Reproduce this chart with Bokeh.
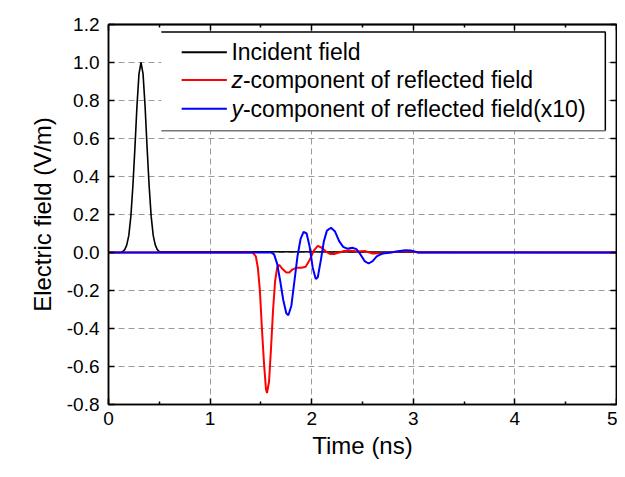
from bokeh.plotting import figure
from bokeh.models import (Range1d, LinearAxis, SingleIntervalTicker, FixedTicker,
                          PrintfTickFormatter, BoxAnnotation, Label)
from bokeh.embed import file_html
from bokeh.resources import INLINE

# ---------------- data ----------------
t_inc = [0, 0.12, 0.14, 0.16, 0.18, 0.20, 0.22, 0.24, 0.26, 0.28, 0.30, 0.32,
         0.34, 0.36, 0.38, 0.40, 0.42, 0.44, 0.46, 0.48, 0.50, 5.0]
e_inc = [0, 0, 0.005, 0.015, 0.04, 0.09, 0.19, 0.35, 0.55, 0.77, 0.94, 1.0,
         0.94, 0.77, 0.55, 0.35, 0.19, 0.09, 0.04, 0.015, 0.005, 0]

t_z = [0, 1.42, 1.45, 1.47, 1.49, 1.51, 1.53, 1.55, 1.56, 1.58, 1.60, 1.62,
       1.64, 1.66, 1.68, 1.71, 1.75, 1.78, 1.81, 1.85, 1.90, 1.94, 1.98, 2.02,
       2.06, 2.10, 2.14, 2.18, 2.22, 2.27, 2.32, 2.37, 2.45, 2.52, 2.60, 2.70,
       2.80, 2.90, 2.97, 3.05, 5.0]
e_z = [0, 0, -0.02, -0.08, -0.20, -0.40, -0.58, -0.72, -0.74, -0.68, -0.50, -0.30,
       -0.15, -0.08, -0.065, -0.085, -0.105, -0.105, -0.09, -0.08, -0.08, -0.075, -0.04, 0.01,
       0.035, 0.025, 0.005, -0.008, -0.008, 0.0, 0.008, 0.01, 0.005, 0.008, -0.005, -0.004,
       0.002, 0.008, 0.006, 0.0, 0]

t_y = [0, 1.60, 1.63, 1.66, 1.69, 1.72, 1.75, 1.77, 1.80, 1.83, 1.86, 1.89,
       1.92, 1.95, 1.98, 2.01, 2.04, 2.06, 2.09, 2.12, 2.15, 2.19, 2.23, 2.27,
       2.31, 2.35, 2.40, 2.44, 2.48, 2.52, 2.56, 2.60, 2.64, 2.70, 2.78, 2.85,
       2.92, 2.98, 3.05, 5.0]
e_y = [0, 0, -0.01, -0.06, -0.15, -0.25, -0.32, -0.33, -0.28, -0.15, -0.02, 0.07,
       0.108, 0.10, 0.03, -0.08, -0.14, -0.13, -0.04, 0.06, 0.115, 0.13, 0.11, 0.06,
       0.03, 0.02, 0.025, 0.018, -0.01, -0.045, -0.058, -0.045, -0.02, -0.005, 0.0, 0.006,
       0.012, 0.01, 0.0, 0]

x_ticks = [0, 1, 2, 3, 4, 5]
x_minor = [0.5, 1.5, 2.5, 3.5, 4.5]
y_ticks = [-0.8, -0.6, -0.4, -0.2, 0.0, 0.2, 0.4, 0.6, 0.8, 1.0, 1.2]

legend_rows = [
    ("", "Incident field", "black"),
    ("z", "-component of reflected field", "red"),
    ("y", "-component of reflected field(x10)", "blue"),
]

FONT = "Liberation Sans"

p = figure(width=617, height=461, output_backend="svg", toolbar_location=None,
           x_range=Range1d(0, 5), y_range=Range1d(-0.8, 1.2),
           min_border_left=108, min_border_right=1, min_border_top=24,
           min_border_bottom=57,
           x_axis_label="Time (ns)", y_axis_label="Electric field (V/m)")
p.background_fill_color = "white"
p.border_fill_color = "white"
p.outline_line_color = "black"
p.outline_line_width = 1.5

# axes
xa = p.xaxis[0]
xa.ticker = FixedTicker(ticks=x_ticks, minor_ticks=x_minor)
ya = p.yaxis[0]
ya.ticker = FixedTicker(ticks=y_ticks)
ya.formatter = PrintfTickFormatter(format="%.1f")
for ax in (xa, ya):
    ax.axis_line_width = 1.5
    ax.axis_line_color = "black"
    ax.major_tick_in = 6
    ax.major_tick_out = 0
    ax.minor_tick_in = 3
    ax.minor_tick_out = 0
    ax.major_tick_line_width = 1.5
    ax.minor_tick_line_width = 1.5
    ax.major_label_text_font = FONT
    ax.major_label_text_font_size = "19px"
    ax.major_label_text_color = "black"
    ax.axis_label_text_font = FONT
    ax.axis_label_text_font_size = "24px"
    ax.axis_label_text_font_style = "normal"
    ax.axis_label_text_color = "black"
xa.major_label_standoff = 7
xa.axis_label_standoff = 4
ya.major_label_standoff = 9
ya.axis_label_standoff = 8
ya.minor_tick_in = 0


def mirror_axis(minor_positions, tick_len):
    # an axis with no major ticks (so no labels); its "minor" ticks give the marks
    return LinearAxis(ticker=FixedTicker(ticks=[], minor_ticks=minor_positions),
                      major_label_standoff=0, axis_label_standoff=0,
                      major_tick_in=0, major_tick_out=0,
                      minor_tick_in=tick_len, minor_tick_out=0,
                      axis_line_width=1.5, minor_tick_line_width=1.5)


p.add_layout(mirror_axis(x_ticks, 6), "above")
p.add_layout(mirror_axis(x_minor, 3), "above")
p.add_layout(mirror_axis(y_ticks, 6), "right")

# grid
p.xgrid.ticker = FixedTicker(ticks=x_ticks)
p.ygrid.ticker = FixedTicker(ticks=y_ticks)
for g in (p.xgrid[0], p.ygrid[0]):
    g.grid_line_color = "#9a9a9a"
    g.grid_line_dash = "6 4"
    g.grid_line_width = 1

# curves
p.line(t_inc, e_inc, line_color="black", line_width=1.6)
p.line(t_z, e_z, line_color="red", line_width=2)
p.line(t_y, e_y, line_color="blue", line_width=2)

# legend (custom so that z / y can be italic)
LEG_LEFT, LEG_RIGHT, LEG_TOP, LEG_BOTTOM = 0.52, 4.89, 1.16, 0.641
ROW_Y = [1.054, 0.908, 0.756]
LINE_X0, LINE_X1, TEXT_X = 0.72, 1.165, 1.21
p.add_layout(BoxAnnotation(left=LEG_LEFT, right=LEG_RIGHT, top=LEG_TOP, bottom=LEG_BOTTOM,
                           fill_color="white", fill_alpha=1.0, line_color=None))
b1 = p.line([LEG_LEFT, LEG_RIGHT, LEG_RIGHT], [LEG_TOP, LEG_TOP, LEG_BOTTOM],
            line_color="black", line_width=1.5)
b2 = p.line([LEG_LEFT, LEG_RIGHT], [LEG_BOTTOM, LEG_BOTTOM], line_color="#777777", line_width=1.5)
b1.level = "overlay"
b2.level = "overlay"
for (ital, rest, col), ry in zip(legend_rows, ROW_Y):
    r = p.line([LINE_X0, LINE_X1], [ry, ry], line_color=col, line_width=2)
    r.level = "overlay"
    off = 0
    if ital:
        p.add_layout(Label(x=TEXT_X, y=ry, text=ital, text_font=FONT, text_font_size="23px",
                           text_font_style="italic", text_baseline="middle", text_color="black",
                           level="overlay"))
        off = 11.5
    p.add_layout(Label(x=TEXT_X, y=ry, x_offset=off, text=rest, text_font=FONT,
                       text_font_size="23px", text_baseline="middle", text_color="black",
                       level="overlay"))

open("out.html", "w").write(file_html(p, INLINE))
